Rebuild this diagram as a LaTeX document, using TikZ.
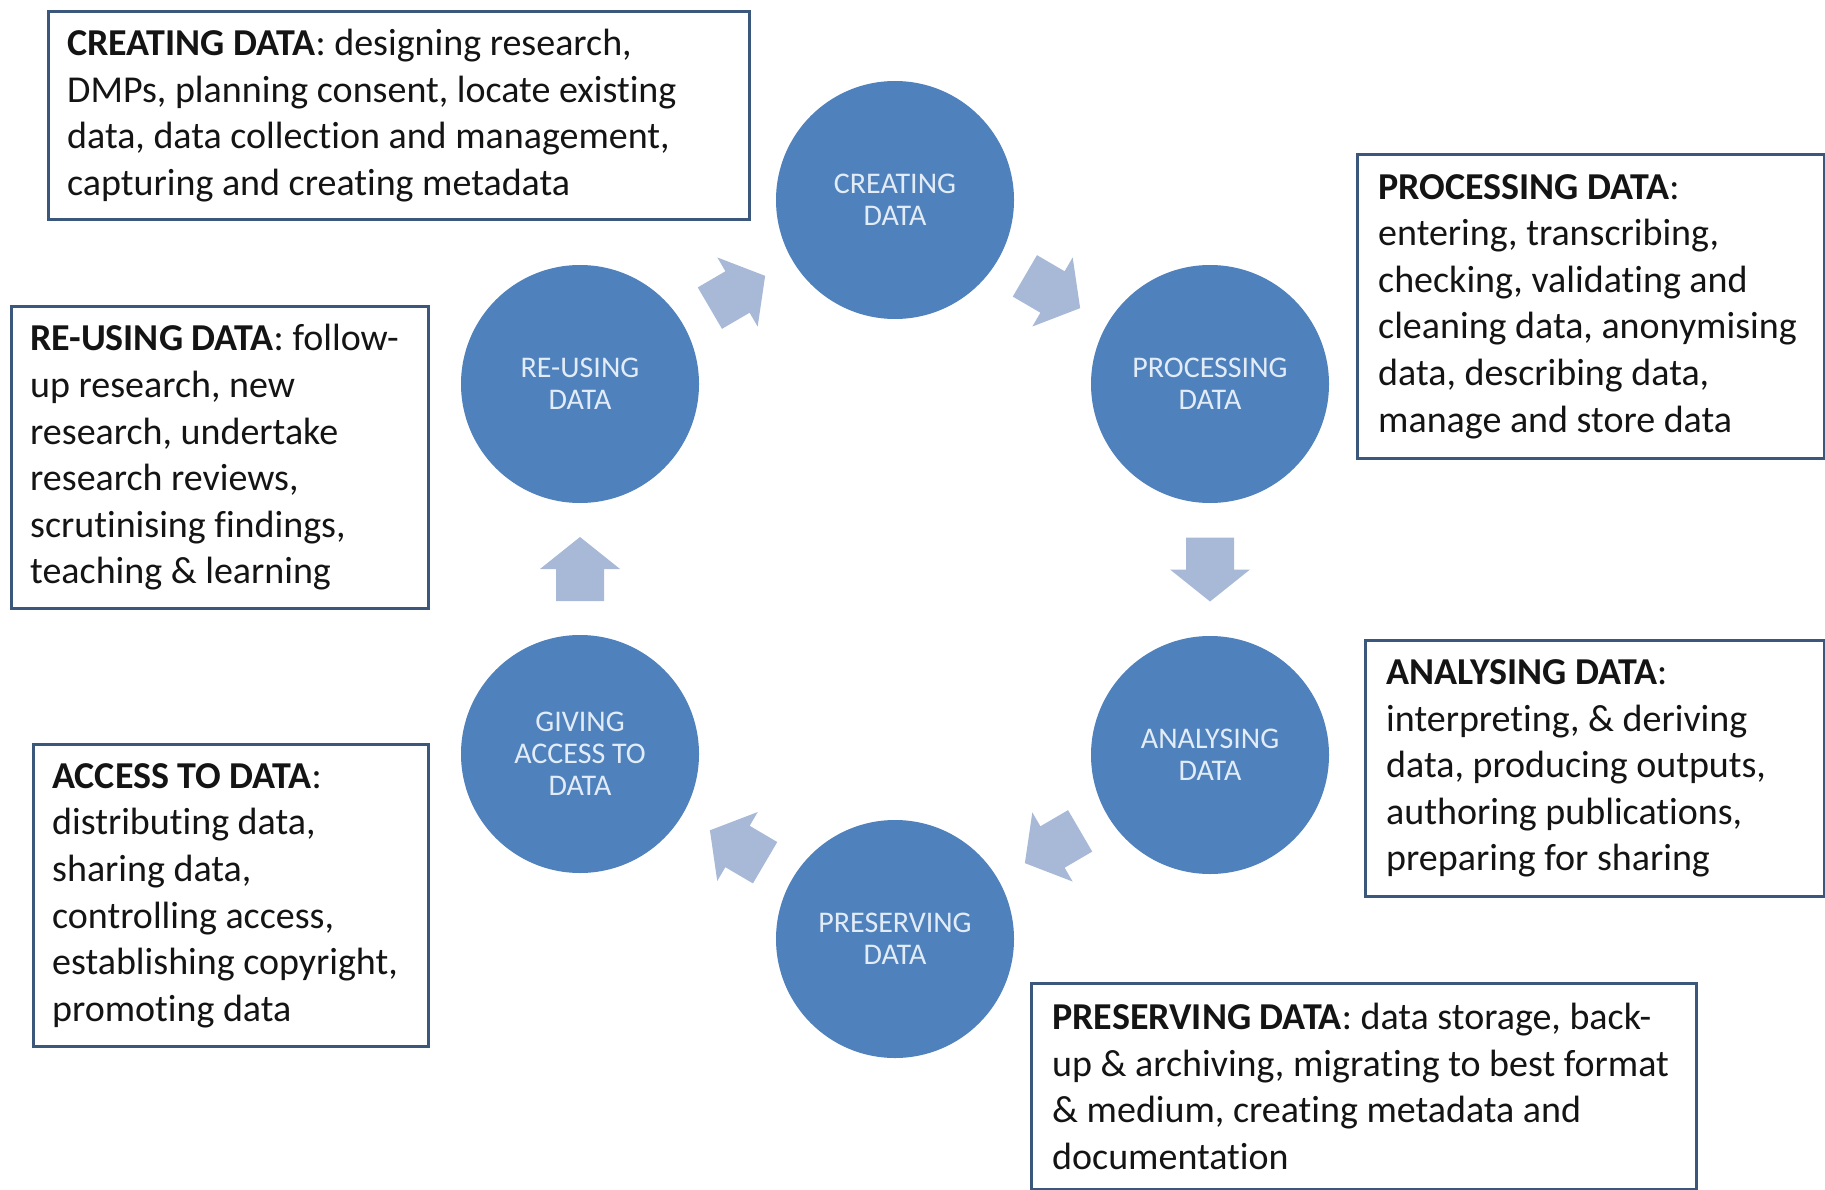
\documentclass[tikz,border=0pt]{standalone}
\usepackage{fontspec}
\setmainfont{Carlito}[Ligatures=NoCommon]
\usetikzlibrary{calc}
\definecolor{circblue}{HTML}{4F81BD}
\definecolor{circtext}{HTML}{E2ECF7}
\definecolor{arrowc}{HTML}{A8B9D8}
\definecolor{framec}{HTML}{3B587C}
\definecolor{textc}{HTML}{141414}
\newcommand\blockarrow[2]{%
  \coordinate (am) at ($(#1)!0.5!(#2)$);
  \coordinate (ab) at ($(am)!32pt!(#1)$);
  \fill[arrowfill] ($(ab)!24pt!90:(#2)$) -- ($(am)!24pt!90:(#2)$) -- ($(am)!40pt!90:(#2)$)
    -- ($(am)!32pt!(#2)$) -- ($(am)!40pt!-90:(#2)$) -- ($(am)!24pt!-90:(#2)$)
    -- ($(ab)!24pt!-90:(#2)$) -- cycle;}
\begin{document}
\begin{tikzpicture}[x=1pt,y=-1pt,
  stage/.style={circle, fill=circblue, minimum size=238pt, inner sep=0pt,
    text=circtext, align=center, font=\fontsize{30}{32}\selectfont},
  arrowfill/.style={fill=arrowc},
  boxframe/.style={draw=framec, line width=3pt, fill=white, anchor=north west, inner sep=0pt},
  boxtext/.style={anchor=west, inner sep=0pt, align=left, text=textc,
    font=\fontsize{38}{46.6}\selectfont}]
\useasboundingbox (0,0) rectangle (1825,1190);
\fill[white] (0,0) rectangle (1825,1190);

% circles
\node[stage] (create) at (895,200) {CREATING\\DATA};
\node[stage] (process) at (1210,384) {PROCESSING\\DATA};
\node[stage] (analyse) at (1210,755) {ANALYSING\\DATA};
\node[stage] (preserve) at (895,939) {PRESERVING\\DATA};
\node[stage] (access) at (580,754) {GIVING\\ACCESS TO\\DATA};
\node[stage] (reuse) at (580,384) {RE-USING\\DATA};

% block arrows
\blockarrow{create}{process}
\blockarrow{process}{analyse}
\blockarrow{analyse}{preserve}
\blockarrow{preserve}{access}
\blockarrow{access}{reuse}
\blockarrow{reuse}{create}

% text boxes
\node[boxframe, minimum width=701pt, minimum height=208pt] (cbox) at (47,10) {};
\node[boxtext] (ctext) at ([xshift=20pt]cbox.west)
  {\textbf{CREATING DATA}: designing research,\\DMPs, planning consent, locate existing\\data, data collection and management,\\capturing and creating metadata};

\node[boxframe, minimum width=467pt, minimum height=304pt] (pbox) at (1356,153) {};
\node[boxtext] (ptext) at ([xshift=22pt]pbox.west)
  {\textbf{PROCESSING DATA}:\\entering, transcribing,\\checking, validating and\\cleaning data, anonymising\\data, describing data,\\manage and store data};

\node[boxframe, minimum width=459pt, minimum height=256pt] (abox) at (1364,639) {};
\node[boxtext] (atext) at ([xshift=22pt]abox.west)
  {\textbf{ANALYSING DATA}:\\interpreting, \& deriving\\data, producing outputs,\\authoring publications,\\preparing for sharing};

\node[boxframe, minimum width=665pt, minimum height=206pt] (prbox) at (1030,982) {};
\node[boxtext] (prtext) at ([xshift=22pt]prbox.west)
  {\textbf{PRESERVING DATA}: data storage, back-\\up \& archiving, migrating to best format\\\& medium, creating metadata and\\documentation};

\node[boxframe, minimum width=395pt, minimum height=302pt] (gbox) at (32,743) {};
\node[boxtext] (gtext) at ([xshift=20pt]gbox.west)
  {\textbf{ACCESS TO DATA}:\\distributing data,\\sharing data,\\controlling access,\\establishing copyright,\\promoting data};

\node[boxframe, minimum width=417pt, minimum height=302pt] (rbox) at (10,305) {};
\node[boxtext] (rtext) at ([xshift=20pt]rbox.west)
  {\textbf{RE-USING DATA}: follow-\\up research, new\\research, undertake\\research reviews,\\scrutinising findings,\\teaching \& learning};
\end{tikzpicture}
\end{document}
